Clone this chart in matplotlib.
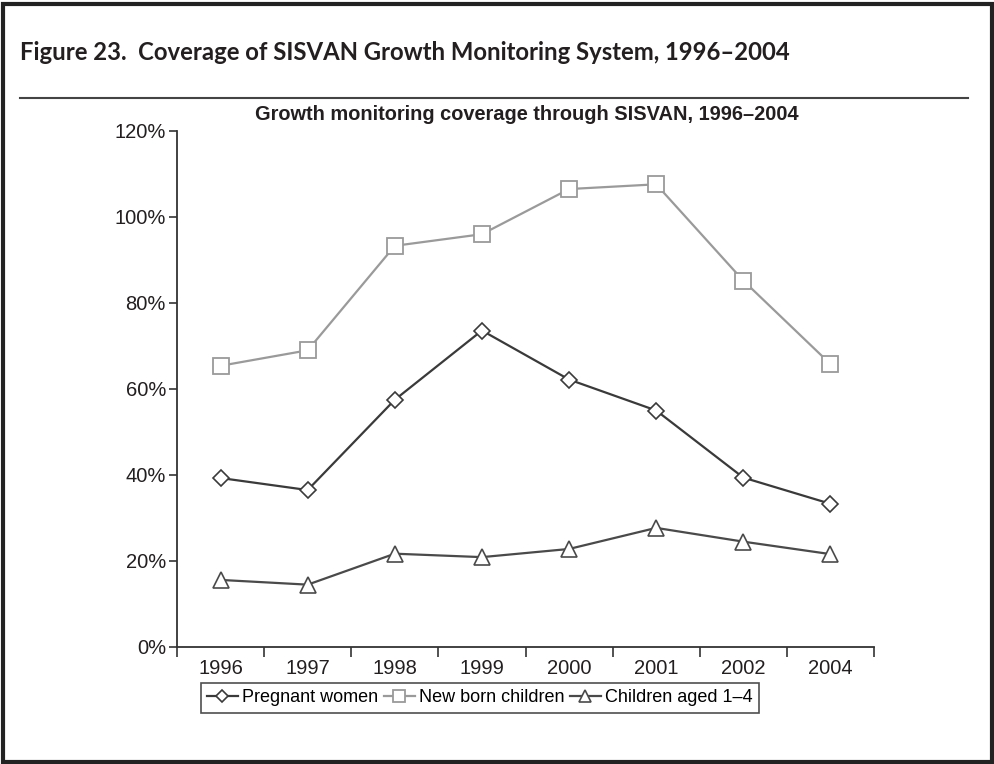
import matplotlib
matplotlib.use("Agg")
import matplotlib.pyplot as plt
from matplotlib.patches import Rectangle
from matplotlib.lines import Line2D
from matplotlib.ticker import FuncFormatter, FixedLocator

years = ["1996", "1997", "1998", "1999", "2000", "2001", "2002", "2004"]
pregnant = [39.3, 36.5, 57.5, 73.6, 62.2, 55.0, 39.4, 33.3]
newborn = [65.4, 69.0, 93.3, 96.0, 106.5, 107.6, 85.2, 65.8]
children = [15.6, 14.5, 21.7, 20.9, 22.8, 27.7, 24.5, 21.6]
labels = ["Pregnant women", "New born children", "Children aged 1\u20134"]

plt.rcParams['font.family'] = ['Liberation Sans', 'DejaVu Sans']

fig = plt.figure(figsize=(9.95, 7.64), dpi=100)
W, H = 995, 764

# outer frame
fig.patches.append(Rectangle((3 / W, 1 - 762 / H), 989 / W, 758 / H, transform=fig.transFigure,
                             fill=False, edgecolor='#222222', linewidth=3))

fig.text(20 / W, 1 - 52 / H, "Figure 23.  Coverage of SISVAN Growth Monitoring System, 1996\u20132004",
         fontsize=17.2, fontweight='bold', family=['Lato', 'DejaVu Sans'], color='#231f20',
         ha='left', va='center')
fig.add_artist(Line2D([20 / W, 968 / W], [1 - 98 / H, 1 - 98 / H], transform=fig.transFigure,
                      color='#444444', linewidth=1.5))

ax = fig.add_axes([177 / W, 1 - 647 / H, (874 - 177) / W, (647 - 131) / H])
x = list(range(len(years)))

ax.plot(x, pregnant, color='#3a3a3a', linewidth=1.6, marker='D', markersize=8.5,
        markerfacecolor='white', markeredgecolor='#3a3a3a', markeredgewidth=1.2, label=labels[0])
ax.plot(x, newborn, color='#9a9a9a', linewidth=1.6, marker='s', markersize=11,
        markerfacecolor='white', markeredgecolor='#9a9a9a', markeredgewidth=1.3, label=labels[1])
ax.plot(x, children, color='#4a4a4a', linewidth=1.6, marker='^', markersize=11,
        markerfacecolor='white', markeredgecolor='#4a4a4a', markeredgewidth=1.2, label=labels[2])

ax.set_xlim(-0.5, len(years) - 0.5)
ax.set_ylim(0, 120)
ax.set_yticks([0, 20, 40, 60, 80, 100, 120])
ax.yaxis.set_major_formatter(FuncFormatter(lambda v, p: f"{int(v)}%"))
ax.set_xticks(x)
ax.set_xticklabels(years)
ax.xaxis.set_minor_locator(FixedLocator([i - 0.5 for i in range(len(years) + 1)]))
ax.tick_params(axis='x', which='major', length=0, pad=9, labelsize=14.5, colors='#231f20')
ax.tick_params(axis='x', which='minor', length=7, width=1.2, color='#333333', direction='out')
ax.tick_params(axis='y', length=6, width=1.2, color='#333333', labelsize=14.5, labelcolor='#231f20', pad=2)
for s in ['top', 'right']:
    ax.spines[s].set_visible(False)
for s in ['left', 'bottom']:
    ax.spines[s].set_color('#333333')
    ax.spines[s].set_linewidth(1.3)

ax.set_title("Growth monitoring coverage through SISVAN, 1996\u20132004", fontsize=14.4,
             fontweight='bold', color='#231f20', pad=8, x=(527 - 177) / (874 - 177))

leg = fig.legend(loc='center', bbox_to_anchor=(480 / W, 1 - 698 / H), ncol=3, frameon=True,
                 fancybox=False, edgecolor='#222222', fontsize=13, handlelength=1.7,
                 handletextpad=0.25, columnspacing=0.3, borderpad=0.35, markerscale=0.75)
leg.get_frame().set_linewidth(1.2)

fig.savefig("out.png", dpi=100)
